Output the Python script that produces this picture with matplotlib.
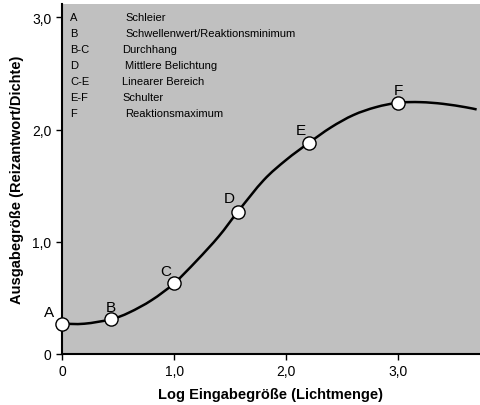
import numpy as np
import matplotlib
matplotlib.use("Agg")
import matplotlib.pyplot as plt
from matplotlib.path import Path
from matplotlib.patches import PathPatch

plt.rcParams['font.family'] = ['Liberation Sans', 'DejaVu Sans']

curve_x = [0.0, 0.2, 0.44, 0.6, 0.8, 1.0, 1.2, 1.4, 1.57, 1.8, 2.0, 2.2, 2.4, 2.6, 2.8, 3.0, 3.2, 3.4, 3.6, 3.7]
curve_y = [0.27, 0.27, 0.31, 0.37, 0.48, 0.63, 0.83, 1.05, 1.27, 1.55, 1.73, 1.88, 2.02, 2.13, 2.2, 2.24, 2.245, 2.23, 2.2, 2.18]
pt_labels = ["A", "B", "C", "D", "E", "F"]
pt_x = [0.0, 0.44, 1.0, 1.57, 2.2, 3.0]
pt_y = [0.27, 0.31, 0.63, 1.27, 1.88, 2.24]
legend_keys = ["A", "B", "B-C", "D", "C-E", "E-F", "F"]
legend_texts = ["Schleier", "Schwellenwert/Reaktionsminimum", "Durchhang", "Mittlere Belichtung",
                "Linearer Bereich", "Schulter", "Reaktionsmaximum"]
xticks = [0, 1, 2, 3]
xtick_labels = ["0", "1,0", "2,0", "3,0"]
yticks = [0, 1, 2, 3]
ytick_labels = ["0", "1,0", "2,0", "3,0"]

fig = plt.figure(figsize=(4.8, 4.06), dpi=100)
ax = fig.add_axes([62/480, 1-355/406, 418/480, 350/406])
ax.set_facecolor("#c0c0c0")
ax.set_xlim(0, 3.73)
ax.set_ylim(0, 3.12)

# smooth curve: Catmull-Rom segments as cubic Bezier path through the data points
P = np.column_stack([curve_x, curve_y])
verts = [P[0]]
codes = [Path.MOVETO]
for i in range(len(P) - 1):
    p0 = P[i - 1] if i > 0 else P[i]
    p1, p2 = P[i], P[i + 1]
    p3 = P[i + 2] if i + 2 < len(P) else P[i + 1]
    verts += [p1 + (p2 - p0) / 6, p2 - (p3 - p1) / 6, p2]
    codes += [Path.CURVE4] * 3
ax.add_patch(PathPatch(Path(verts, codes), fill=False, edgecolor="black", lw=1.8, zorder=2))

ax.scatter(pt_x, pt_y, s=90, facecolor="white", edgecolor="black", linewidths=1.0, zorder=3, clip_on=False)
offs = {"A": (-0.12, 0.1), "B": (0.0, 0.11), "C": (-0.07, 0.11), "D": (-0.08, 0.12), "E": (-0.07, 0.12), "F": (0.0, 0.11)}
for l, x, y in zip(pt_labels, pt_x, pt_y):
    dx, dy = offs[l]
    ax.text(x + dx, y + dy, l, fontsize=11, ha="center", va="center")
for i, (k, t) in enumerate(zip(legend_keys, legend_texts)):
    yy = 18 + i * 16
    fig.text(70/480, 1 - yy/406, k, fontsize=8, va="center")
    fig.text(125/480 if k not in ("B-C", "C-E", "E-F") else 122/480, 1 - yy/406, t, fontsize=8, va="center")
ax.set_xticks(xticks)
ax.set_xticklabels(xtick_labels, fontsize=10)
ax.set_yticks(yticks)
ax.set_yticklabels(ytick_labels, fontsize=10)
ax.tick_params(direction="out", length=4, width=1)
for s in ["top", "right"]:
    ax.spines[s].set_visible(False)
for s in ["left", "bottom"]:
    ax.spines[s].set_linewidth(1.5)
ax.set_xlabel("Log Eingabegröße (Lichtmenge)", fontsize=10.5, fontweight="bold", labelpad=6)
ax.set_ylabel("Ausgabegröße (Reizantwort/Dichte)", fontsize=10.5, fontweight="bold", labelpad=6)
fig.savefig("out.png", dpi=100)
